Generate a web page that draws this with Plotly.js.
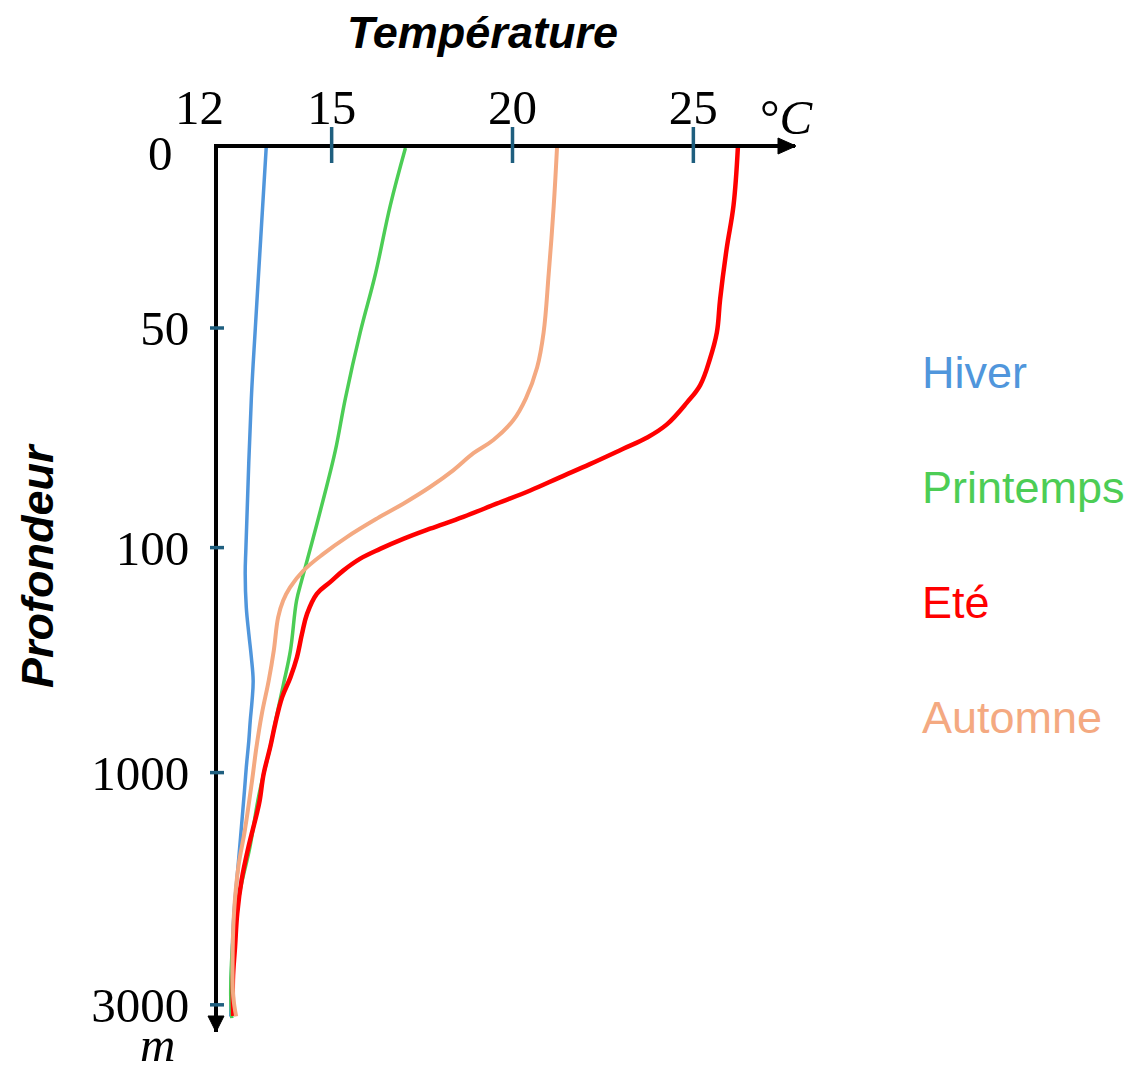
<!DOCTYPE html>
<html>
<head>
<meta charset="utf-8">
<script src="https://cdn.plot.ly/plotly-3.0.1.min.js"></script>
<style>
  html, body { margin: 0; padding: 0; background: #ffffff; }
  #chart { width: 1142px; height: 1067px; }
</style>
</head>
<body>
<div id="chart"></div>
<script>
// Depth axis is a broken scale: each stretch between labelled depths has its own length.
const depthTicks = [0, 50, 100, 1000, 3000];
const depthTickLabels = ['0', '50', '100', '1000', '3000'];
const depthTickPos = [0, 1, 2.22, 3.47, 4.76];

// Temperature axis (°C)
const tempOrigin = 12;
const tempTicks = [15, 20, 25];

// Seasonal temperature profiles: depth (m) and temperature (°C)
const hiverDepth = [0, 25, 50, 66, 100, 205, 339, 445, 539, 632, 712, 792, 872, 979, 1155, 1780, 2210, 2640, 3100];
const hiverTemp  = [13.19, 13.04, 12.89, 12.78, 12.63, 12.61, 12.64, 12.71, 12.78, 12.83, 12.80, 12.75, 12.71, 12.64, 12.59, 12.42, 12.30, 12.24, 12.21];

const printempsDepth = [0, 16, 35, 51, 66, 78, 89, 99, 232, 312, 512, 645, 765, 899, 1011, 1240, 1641, 2013, 2356, 2642, 2929, 3114];
const printempsTemp  = [17.04, 16.62, 16.21, 15.79, 15.38, 15.10, 14.77, 14.45, 14.17, 14.03, 13.86, 13.67, 13.49, 13.30, 13.12, 12.96, 12.74, 12.47, 12.30, 12.23, 12.21, 12.24];

const eteDepth = [0, 16, 28, 42, 51, 57, 63, 67, 72, 75, 77.5, 81, 84, 87, 90, 93, 95.7, 98, 105, 145, 192, 239, 285, 365, 445, 539, 619, 699, 805, 899, 1011, 1240, 1355, 1641, 1927, 2213, 2499, 2785, 3095];
const eteTemp  = [26.23, 26.11, 25.92, 25.74, 25.65, 25.46, 25.19, 24.82, 24.26, 23.71, 23.06, 22.14, 21.31, 20.49, 19.56, 18.64, 17.72, 16.98, 16.34, 15.78, 15.32, 14.95, 14.59, 14.32, 14.18, 14.04, 13.86, 13.63, 13.44, 13.30, 13.12, 13.01, 12.93, 12.70, 12.51, 12.39, 12.33, 12.27, 12.28];

const automneDepth = [0, 16, 35, 51, 59, 66, 71, 75.5, 78.5, 82.4, 86.2, 90, 93.4, 97.6, 125, 192, 259, 312, 379, 512, 632, 765, 899, 1069, 1498, 1813, 2213, 2642, 2929, 3100];
const automneTemp  = [21.23, 21.14, 21.00, 20.86, 20.68, 20.37, 20.02, 19.47, 18.92, 18.36, 17.72, 16.98, 16.25, 15.42, 14.77, 14.22, 13.85, 13.66, 13.52, 13.40, 13.26, 13.07, 12.92, 12.80, 12.60, 12.42, 12.30, 12.26, 12.28, 12.36];

const seasonNames  = ['Hiver', 'Printemps', 'Eté', 'Automne'];
const seasonColors = ['#5096DC', '#4CCD55', '#FF0000', '#F4A981'];

// Map a depth onto the broken axis (linear inside each stretch, last stretch extended)
function depthToPos(d) {
  let i = 0;
  while (i < depthTicks.length - 2 && d > depthTicks[i + 1]) i++;
  const d0 = depthTicks[i], d1 = depthTicks[i + 1];
  const p0 = depthTickPos[i], p1 = depthTickPos[i + 1];
  return p0 + (d - d0) / (d1 - d0) * (p1 - p0);
}

const series = [
  { depth: hiverDepth, temp: hiverTemp, width: 3.5 },
  { depth: printempsDepth, temp: printempsTemp, width: 3.5 },
  { depth: eteDepth, temp: eteTemp, width: 4.5 },
  { depth: automneDepth, temp: automneTemp, width: 4 }
];

const traces = series.map((s, k) => ({
  type: 'scatter',
  mode: 'lines',
  name: seasonNames[k],
  x: s.temp,
  y: s.depth.map(depthToPos),
  line: { color: seasonColors[k], width: s.width, shape: 'spline', smoothing: 1.1 },
  hoverinfo: 'skip',
  showlegend: false
}));

const tickColor = '#1F5F7F';
const serif = 'Liberation Serif, Times New Roman, serif';
const sans = 'Liberation Sans, Arial, sans-serif';

const shapes = [];
// temperature tick marks crossing the top axis
tempTicks.forEach(t => shapes.push({
  type: 'line', layer: 'above',
  xref: 'x', x0: t, x1: t,
  yref: 'paper', ysizemode: 'pixel', yanchor: 1, y0: -15, y1: 21,
  line: { color: tickColor, width: 3.5 }
}));
// depth tick marks crossing the left axis
depthTickPos.slice(1).forEach(p => shapes.push({
  type: 'line', layer: 'above',
  yref: 'y', y0: p, y1: p,
  xref: 'paper', xsizemode: 'pixel', xanchor: 0, x0: -8, x1: 6,
  line: { color: tickColor, width: 3.5 }
}));
// arrowheads at the ends of both axes
shapes.push({
  type: 'path', layer: 'above',
  xref: 'paper', xsizemode: 'pixel', xanchor: 1,
  yref: 'paper', ysizemode: 'pixel', yanchor: 1,
  path: 'M -17,10 L 1,2 L -17,-6 Z',
  fillcolor: '#000000', line: { color: '#000000', width: 1 }
});
shapes.push({
  type: 'path', layer: 'above',
  xref: 'paper', xsizemode: 'pixel', xanchor: 0,
  yref: 'paper', ysizemode: 'pixel', yanchor: 0,
  path: 'M -10,16 L -2,0 L 6,16 Z',
  fillcolor: '#000000', line: { color: '#000000', width: 1 }
});

function note(text, x, y, xshift, yshift, font, opts) {
  return Object.assign({
    text: text, xref: 'paper', yref: 'paper', x: x, y: y,
    xshift: xshift, yshift: yshift, showarrow: false,
    xanchor: 'center', yanchor: 'middle', font: font
  }, opts || {});
}

const numFont = { family: serif, size: 49, color: '#000000' };
const titleFont = { family: sans, size: 45, color: '#000000', weight: 'bold', style: 'italic' };

const annotations = [
  note(String(tempOrigin), 0, 1, -19, 41, numFont),
  note(depthTickLabels[0], 0, 1, -58, -5, numFont),
  note('°<i>C</i>', 1, 1, -8, 31, numFont),
  note('<i>m</i>', 0, 0, -61, -12, numFont),
  note('Température', 0, 1, 264, 116, titleFont),
  note('Profondeur', 0, 1, -181, -418, titleFont, { textangle: -90 })
];
const labelCentres = [372, 487, 602, 717];
seasonNames.forEach((n, k) => annotations.push(
  note(n, 1, 1, 125, 148 - labelCentres[k],
       { family: sans, size: 45, color: seasonColors[k] }, { xanchor: 'left' })
));

const layout = {
  width: 1142, height: 1067,
  margin: { l: 218, r: 347, t: 148, b: 35, pad: 0 },
  paper_bgcolor: '#ffffff', plot_bgcolor: '#ffffff',
  showlegend: false,
  xaxis: {
    side: 'top', range: [11.858, 27.81],
    showline: true, linecolor: '#000000', linewidth: 4,
    showgrid: false, zeroline: false, ticks: '',
    tickmode: 'array', tickvals: tempTicks, ticktext: tempTicks.map(String),
    tickfont: numFont, ticklabelstandoff: 0, fixedrange: true
  },
  yaxis: {
    range: [4.911, 0],
    showline: true, linecolor: '#000000', linewidth: 4,
    showgrid: false, zeroline: false, ticks: '',
    tickmode: 'array', tickvals: depthTickPos.slice(1), ticktext: depthTickLabels.slice(1),
    tickfont: numFont, ticklabelstandoff: 15, fixedrange: true
  },
  shapes: shapes,
  annotations: annotations
};

Plotly.newPlot('chart', traces, layout, { staticPlot: true, displayModeBar: false });
</script>
</body>
</html>
